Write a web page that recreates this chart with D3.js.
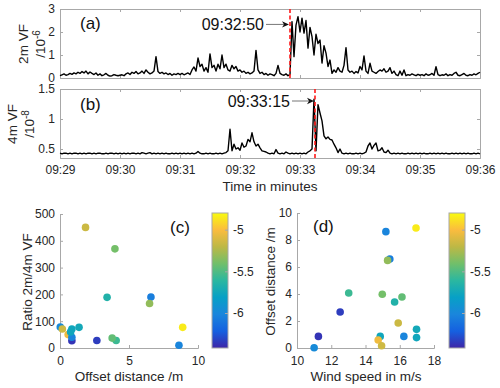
<!DOCTYPE html>
<html><head><meta charset="utf-8">
<script src="https://cdn.jsdelivr.net/npm/d3@7"></script>
<style>
body{margin:0;background:#fff}
svg{font-family:"Liberation Sans",Arial,Helvetica,sans-serif}
</style>
</head><body>
<svg id="chart" width="500" height="388"></svg>
<script>
// ---------------- data ----------------
const startTime = "09:29:00";
const endTime = "09:36:00";
const sampleStepSec = 2;
const timeTickLabels = ["09:29","09:30","09:31","09:32","09:33","09:34","09:35","09:36"];

// 2 m volume fraction (/1e-6), one value every 2 s from 09:29:00
const vf2m = [
0.10,0.14,0.18,0.12,0.15,0.20,0.16,0.22,0.18,0.25,
0.20,0.28,0.22,0.30,0.18,0.26,0.20,0.15,0.22,0.12,
0.18,0.10,0.14,0.20,0.12,0.08,0.10,0.15,0.12,0.10,
0.12,0.14,0.10,0.18,0.22,0.15,0.25,0.20,0.28,0.18,
0.22,0.30,0.20,0.35,0.25,0.18,0.22,0.30,0.93,0.28,
0.20,0.25,0.18,0.22,0.15,0.20,0.12,0.18,0.15,0.20,
0.15,0.20,0.14,0.18,0.22,0.15,0.35,0.48,0.30,0.87,
0.50,0.60,0.30,0.45,0.25,1.05,0.45,0.55,0.30,0.60,
0.40,1.00,0.45,0.60,0.35,0.30,0.55,0.40,0.50,0.30,
0.35,0.25,0.30,0.20,0.25,0.18,0.22,0.30,1.20,0.35,
0.20,0.25,0.15,0.20,0.12,0.18,0.15,0.10,0.20,0.55,
0.20,0.15,0.12,0.18,0.10,0.15,2.45,0.93,2.30,2.67,
2.00,2.60,1.95,2.50,1.30,2.20,1.80,1.00,1.90,1.50,
1.65,0.65,1.40,1.08,0.50,0.78,0.20,0.35,0.25,0.45,
0.30,0.25,0.55,1.32,0.35,0.25,0.30,0.20,0.28,0.22,
0.50,0.35,0.96,0.30,0.20,0.64,0.30,0.25,0.20,0.28,
0.35,0.30,0.40,0.25,0.30,0.45,0.20,0.30,0.15,0.10,
0.30,0.12,0.35,0.10,0.15,0.12,0.18,0.14,0.10,0.16,
0.12,0.15,0.10,0.18,0.12,0.14,0.20,0.12,0.49,0.15,
0.10,0.14,0.12,0.18,0.10,0.15,0.12,0.20,0.25,0.12,
0.10,0.15,0.20,0.12,0.10,0.15,0.12,0.18,0.14,0.20,0.25
];

// 4 m volume fraction (/1e-8), one value every 2 s from 09:29:00
const vf4m = [
0.43,0.42,0.43,0.43,0.42,0.43,0.42,0.43,0.43,0.42,
0.43,0.42,0.43,0.42,0.43,0.43,0.42,0.43,0.42,0.43,
0.43,0.42,0.42,0.43,0.42,0.43,0.43,0.42,0.43,0.42,
0.43,0.42,0.43,0.42,0.43,0.42,0.43,0.43,0.42,0.43,
0.42,0.44,0.43,0.42,0.43,0.44,0.42,0.43,0.42,0.43,
0.42,0.43,0.42,0.43,0.42,0.42,0.43,0.42,0.43,0.42,
0.43,0.42,0.43,0.42,0.43,0.42,0.43,0.42,0.43,0.46,
0.43,0.42,0.42,0.43,0.42,0.43,0.42,0.42,0.43,0.42,
0.43,0.42,0.43,0.44,0.47,0.83,0.47,0.58,0.50,0.52,
0.48,0.60,0.53,0.55,0.66,0.62,0.77,0.62,0.55,0.58,
0.52,0.47,0.46,0.45,0.43,0.42,0.43,0.42,0.49,0.43,
0.42,0.43,0.42,0.45,0.43,0.42,0.43,0.42,0.43,0.42,
0.43,0.42,0.43,0.42,0.45,0.47,0.50,1.33,0.47,1.24,
1.10,0.97,0.72,0.67,0.70,0.66,0.65,0.58,0.52,0.44,
0.50,0.43,0.42,0.43,0.42,0.43,0.42,0.42,0.43,0.42,
0.43,0.42,0.43,0.45,0.55,0.60,0.50,0.56,0.60,0.47,
0.48,0.52,0.45,0.44,0.48,0.43,0.42,0.43,0.42,0.43,
0.42,0.43,0.42,0.42,0.43,0.42,0.43,0.42,0.43,0.42,
0.43,0.42,0.43,0.42,0.42,0.43,0.42,0.43,0.42,0.43,
0.42,0.43,0.42,0.43,0.42,0.42,0.43,0.42,0.43,0.42,
0.43,0.42,0.43,0.42,0.43,0.42,0.42,0.43,0.42,0.43,0.42
];

const event2mTime = "09:32:50";
const event2mArrowValue = 2.33;
const event4mTime = "09:33:15";
const event4mArrowValue = 1.30;

// events: offset distance (m), ratio 2m/4m VF, wind speed (m/s), colour value
const offsetDist = [8.89,8.62,6.59,6.49,4.07,3.98,3.41,3.78,2.67,1.85,1.38,0.86,0.86,0.59,0.86,0.77,0.02,0.17];
const ratioVF    = [77,  10,  190, 166, 28,  370, 189, 37,  28,  450, 77,  27,  71,  50,  40,  60,  78,  71];
const windSpeed  = [16.95,15.19,15.42,15.29,13.02,14.98,15.70,16.13,12.52,15.91,16.98,11.25,14.86,14.74,16.24,16.98,11.00,14.94];
const colorValue = [-4.85,-6.02,-6.06,-5.32,-5.56,-5.40,-5.66,-5.45,-6.34,-5.16,-5.74,-6.37,-5.76,-5.04,-6.02,-5.76,-5.98,-5.15];

const colorDomain = [-6.42, -4.80];
const colorTicks = [-6, -5.5, -5];
const parulaStops = ["#3e26a8","#1560e0","#1a86dc","#07a0c6","#2bb7a0","#71bf6a","#bdb845","#fbbc3e","#f9fb0e"];

// ---------------- drawing ----------------
const svg = d3.select("#chart");
const parseT = d3.timeParse("%H:%M:%S");
const parseHM = d3.timeParse("%H:%M");
const t0 = parseT(startTime);
const GRAY = "#a8a8a8", TXT = "#262626";
const tickFont = 12, labFont = 13.5;

const x = d3.scaleTime().domain([t0, parseT(endTime)]).range([60, 480]);
const timeTicks = timeTickLabels.map(parseHM);
const tAt = i => new Date(t0.getTime() + i * sampleStepSec * 1000);

function styleAxis(g, showText) {
  g.select(".domain").attr("stroke", GRAY);
  g.selectAll(".tick line").attr("stroke", GRAY);
  g.selectAll(".tick text").attr("fill", TXT).style("font-size", tickFont + "px")
    .style("display", showText ? null : "none");
}

const yA = d3.scaleLinear().domain([0, 3]).range([78, 9]);
const yB = d3.scaleLinear().domain([0.35, 1.5]).range([158, 89]);

function framePanel(yS, top, bottom, yTicks, yFmt, showXLabels) {
  const g = svg.append("g");
  g.append("g").attr("transform", `translate(60,0)`)
    .call(d3.axisLeft(yS).tickValues(yTicks).tickSize(-3).tickPadding(5).tickFormat(yFmt)).call(s => styleAxis(s, true));
  g.append("g").attr("transform", `translate(480,0)`)
    .call(d3.axisRight(yS).tickValues(yTicks).tickSize(-3)).call(s => styleAxis(s, false));
  g.append("g").attr("transform", `translate(0,${bottom})`)
    .call(d3.axisBottom(x).tickValues(timeTicks).tickSize(-3).tickPadding(7).tickFormat(d3.timeFormat("%H:%M"))).call(s => styleAxis(s, showXLabels));
  g.append("g").attr("transform", `translate(0,${top})`)
    .call(d3.axisTop(x).tickValues(timeTicks).tickSize(-3)).call(s => styleAxis(s, false));
  return g;
}

framePanel(yA, 9, 78, [0,1,2,3], d => String(d), false);
framePanel(yB, 89, 158, [0.5,1,1.5], d => String(d), true);

const lineA = d3.line().x((d, i) => x(tAt(i))).y(d => yA(d));
const lineB = d3.line().x((d, i) => x(tAt(i))).y(d => yB(d));
svg.append("path").attr("d", lineA(vf2m)).attr("fill", "none").attr("stroke", "#000").attr("stroke-width", 1.4).attr("stroke-linejoin", "round");
svg.append("path").attr("d", lineB(vf4m)).attr("fill", "none").attr("stroke", "#000").attr("stroke-width", 1.4).attr("stroke-linejoin", "round");

function eventLine(tStr, top, bottom) {
  const xx = x(parseT(tStr));
  svg.append("line").attr("x1", xx).attr("x2", xx).attr("y1", top).attr("y2", bottom)
    .attr("stroke", "#ff1a1a").attr("stroke-width", 1.6).attr("stroke-dasharray", "4,2.5");
}
eventLine(event2mTime, 9, 78);
eventLine(event4mTime, 89, 158);

function annot(tStr, yS, val, textRight, baseline) {
  const tipX = x(parseT(tStr)) - 1, tipY = yS(val);
  svg.append("text").attr("x", textRight).attr("y", baseline).attr("text-anchor", "end")
    .style("font-size", "16px").attr("fill", "#111").text(tStr);
  svg.append("line").attr("x1", textRight + 2).attr("x2", tipX - 4).attr("y1", tipY).attr("y2", tipY)
    .attr("stroke", "#777").attr("stroke-width", 1);
  svg.append("path").attr("d", `M${tipX},${tipY} L${tipX-7},${tipY-3.2} L${tipX-5},${tipY} L${tipX-7},${tipY+3.2} Z`)
    .attr("fill", "#111");
}
annot(event2mTime, yA, event2mArrowValue, 264, 30);
annot(event4mTime, yB, event4mArrowValue, 290, 107);

const panelLabel = (t, px, py) => svg.append("text").attr("x", px).attr("y", py).style("font-size", "17px").attr("fill", "#111").text(t);
panelLabel("(a)", 80, 29);
panelLabel("(b)", 80, 110);
panelLabel("(c)", 170, 233);
panelLabel("(d)", 313, 232);

function rotLabel(lines, cy) {
  lines.forEach(([main, sup, bxx]) => {
    const t = svg.append("text").attr("transform", `translate(${bxx},${cy}) rotate(-90)`)
      .attr("text-anchor", "middle").style("font-size", labFont + "px").attr("fill", TXT);
    t.append("tspan").text(main);
    if (sup) t.append("tspan").attr("dy", -5).style("font-size", "10px").text(sup);
  });
}
rotLabel([["2m VF", null, 28], ["/10", "-6", 45]], 44);
rotLabel([["4m VF", null, 17], ["/10", "-8", 34]], 124);

svg.append("text").attr("x", 270).attr("y", 191).attr("text-anchor", "middle")
  .style("font-size", labFont + "px").attr("fill", TXT).text("Time in minutes");

// colour scale (parula-like)
const cNorm = d3.scaleLinear().domain(colorDomain).range([0, 1]);
const parula = d3.scaleLinear().domain(parulaStops.map((c, i) => i / (parulaStops.length - 1))).range(parulaStops).interpolate(d3.interpolateRgb);
const colorOf = v => parula(cNorm(v));

const defs = svg.append("defs");
const grad = defs.append("linearGradient").attr("id", "parula").attr("x1", 0).attr("y1", 1).attr("x2", 0).attr("y2", 0);
parulaStops.forEach((c, i) => grad.append("stop").attr("offset", i / (parulaStops.length - 1)).attr("stop-color", c));

function colorbar(x0) {
  const cy = d3.scaleLinear().domain(colorDomain).range([348, 213]);
  svg.append("rect").attr("x", x0).attr("y", 213).attr("width", 16).attr("height", 135)
    .attr("fill", "url(#parula)").attr("stroke", GRAY);
  svg.append("g").attr("transform", `translate(${x0 + 16},0)`)
    .call(d3.axisRight(cy).tickValues(colorTicks).tickSize(-3).tickPadding(5).tickFormat(d => String(d)))
    .call(s => styleAxis(s, true)).call(s => s.select(".domain").remove());
}

function scatter(xS, yS, xTicks, yTicks, xs, ys, xLab, xLabX, yLab, yLabX) {
  const left = xS.range()[0], bottom = yS.range()[0];
  svg.append("g").attr("transform", `translate(0,${bottom})`)
    .call(d3.axisBottom(xS).tickValues(xTicks).tickSize(-3).tickPadding(8).tickFormat(d => String(d))).call(s => styleAxis(s, true));
  svg.append("g").attr("transform", `translate(${left},0)`)
    .call(d3.axisLeft(yS).tickValues(yTicks).tickSize(-3).tickPadding(5).tickFormat(d => String(d))).call(s => styleAxis(s, true));
  svg.append("g").selectAll("circle").data(xs).join("circle")
    .attr("cx", (d, i) => xS(xs[i])).attr("cy", (d, i) => yS(ys[i])).attr("r", 3.8)
    .attr("fill", (d, i) => colorOf(colorValue[i]));
  svg.append("text").attr("x", xLabX).attr("y", 381).attr("text-anchor", "middle")
    .style("font-size", labFont + "px").attr("fill", TXT).text(xLab);
  svg.append("text").attr("transform", `translate(${yLabX},${(yS.range()[0] + yS.range()[1]) / 2 + 1}) rotate(-90)`)
    .attr("text-anchor", "middle").style("font-size", labFont + "px").attr("fill", TXT).text(yLab);
}

const xC = d3.scaleLinear().domain([0, 10]).range([60, 198]);
const yC = d3.scaleLinear().domain([0, 500]).range([348, 214]);
scatter(xC, yC, [0, 5, 10], [0, 100, 200, 300, 400, 500], offsetDist, ratioVF, "Offset distance /m", 129, "Ratio 2m/4m VF", 32);
colorbar(212);

const xD = d3.scaleLinear().domain([10, 18]).range([297, 434]);
const yD = d3.scaleLinear().domain([0, 10]).range([348, 213]);
scatter(xD, yD, [10, 12, 14, 16, 18], [0, 2, 4, 6, 8, 10], windSpeed, offsetDist, "Wind speed in m/s", 366, "Offset distance /m", 275);
colorbar(449);
</script>
</body></html>
